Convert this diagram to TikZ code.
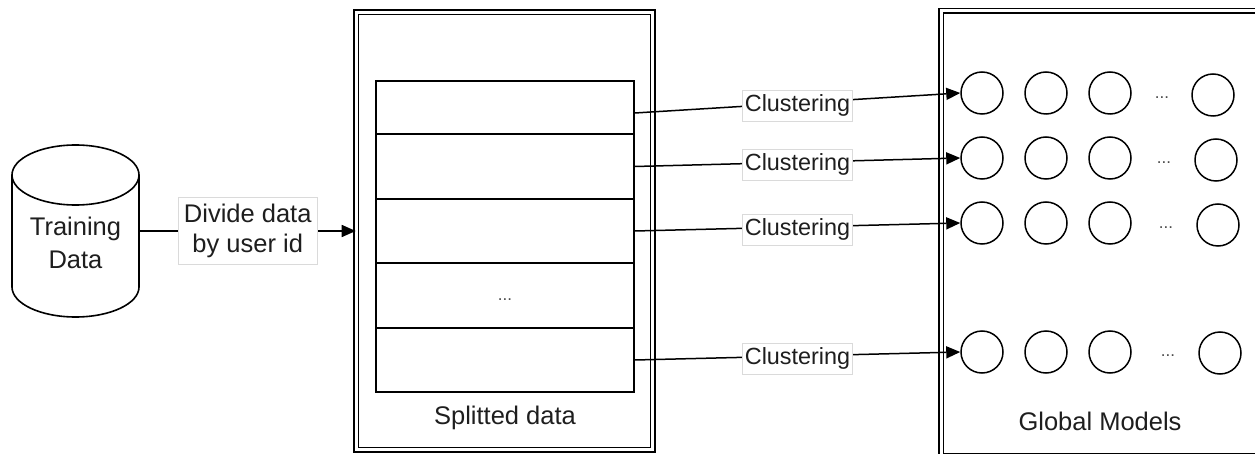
\documentclass[tikz,border=0pt]{standalone}
\usepackage{fontspec}
\setmainfont{Liberation Sans}
\usetikzlibrary{arrows.meta}
\definecolor{txt}{HTML}{1E1E1E}
\definecolor{lblborder}{HTML}{DADADA}
\begin{document}
\begin{tikzpicture}[x=1pt, y=-1pt, line width=1.6pt,
  lbl/.style={font=\fontsize{25.5}{33}\selectfont, text=txt, align=center, inner sep=0pt},
  edgelbl/.style={font=\fontsize{25.5}{30}\selectfont, text=txt, align=center,
    fill=white, draw=lblborder, line width=0.8pt, inner sep=0pt},
  clus/.style={font=\fontsize{23.4}{28}\selectfont, text=txt, fill=white,
    draw=lblborder, line width=0.8pt, inner sep=0pt, minimum width=110pt, minimum height=31pt},
  container/.style={draw, double, double distance=3pt, line width=1.5pt, inner sep=0pt},
  part/.style={draw, line width=1.6pt, inner sep=0pt, minimum width=258pt},
  model/.style={circle, draw, line width=1.5pt, minimum size=42pt, inner sep=0pt},
  dots/.style={font=\fontsize{17}{20}\selectfont, text=txt!80, inner sep=0pt},
  arr/.style={-{Triangle[length=14pt,width=12pt]}, line width=1.5pt}
]
\useasboundingbox (0,0) rectangle (1255,454);

% training data store (cylinder)
\node[minimum width=127pt, minimum height=172pt, inner sep=0pt] (train) at (75.5,231) {};
\draw (12,175) -- (12,287) arc[start angle=180, end angle=360, x radius=63.5pt, y radius=30pt] -- (139,175);
\draw (75.5,175) ellipse [x radius=63.5pt, y radius=30pt];
\node[lbl] (trainlbl) at (75.5,242.5) {Training\\Data};

% splitted data container
\node[container, minimum width=296.25pt, minimum height=437.5pt] (split) at (504.6,231) {};
\node[part, minimum height=53pt] (r1) at (505,107.5) {};
\node[part, minimum height=65pt] (r2) at (505,166.5) {};
\node[part, minimum height=64pt] (r3) at (505,231) {};
\node[part, minimum height=65pt] (r4) at (505,295.5) {};
\node[part, minimum height=64pt] (r5) at (505,360) {};
\node[dots] (rdots) at (505,300) {...};
\node[lbl, anchor=base] (splitlbl) at (505,424) {Splitted data};

% global models container
\node[container, minimum width=316.5pt, minimum height=445pt] (glob) at (1099.25,233.5) {};
\node[lbl, anchor=base] (globlbl) at (1100,430) {Global Models};

% model rows
\foreach \r/\y/\lx/\ly/\dx/\dy in {1/93/1213/95/1162/98, 2/158/1216/160/1164/163,
                                    3/223/1218/225/1166/228, 4/352/1220/353/1168/356} {
  \node[model] (m\r1) at (982,\y) {};
  \node[model] (m\r2) at (1046,\y) {};
  \node[model] (m\r3) at (1110,\y) {};
  \node[dots] (md\r) at (\dx,\dy) {...};
  \node[model] (m\r4) at (\lx,\ly) {};
}

% connectors
\draw[arr] (train.east) -- node[edgelbl, minimum width=139pt, minimum height=67pt] (divlbl) {Divide data\\by user id} (split.west);
\draw[arr] ([yshift=-5.5pt]r1.east) -- node[clus, yshift=-2.5pt] (c1) {Clustering} (m11.west);
\draw[arr] (r2.east) -- node[clus, yshift=-2.5pt] (c2) {Clustering} (m21.west);
\draw[arr] (r3.east) -- node[clus, yshift=-2.5pt] (c3) {Clustering} (m31.west);
\draw[arr] (r5.east) -- node[clus, yshift=-2.5pt] (c4) {Clustering} (m41.west);
\end{tikzpicture}
\end{document}
